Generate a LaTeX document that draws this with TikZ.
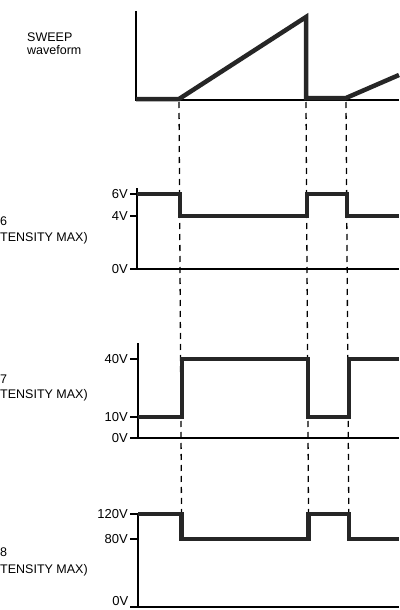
\documentclass[tikz,border=0pt]{standalone}
\usepackage{fontspec}
\setmainfont{Liberation Sans}
\begin{document}
\begin{tikzpicture}[x=1pt, y=-1pt,
    wave/.style ={line width=4.5pt, black!85},
    axis/.style ={line width=1.4pt},
    guide/.style ={dash pattern=on 6pt off 5pt, line width=1.3pt},
    tick/.style ={left, inner sep=1.5pt, font=\fontsize{13}{15}\selectfont},
    caption/.style ={anchor=base west, inner sep=0pt, font=\fontsize{12.5}{15}\selectfont}]
   \useasboundingbox (0,0) rectangle (399,610);

   \node[caption] (S) at (27,42) {SWEEP};
   \node[caption] (W) at (27,55) {waveform};
   \node[caption] (G6) at (0,225) {6};
   \node[caption] (I6) at (0,241) {TENSITY MAX)};
   \node[caption] (G7) at (0,383) {7};
   \node[caption] (I7) at (0,398) {TENSITY MAX)};
   \node[caption] (G8) at (0,556) {8};
   \node[caption] (I8) at (0,573) {TENSITY MAX)};

   \coordinate (t1) at (179,102);
   \coordinate (b1) at (181.5,514);
   \coordinate (t2) at (306,102);
   \coordinate (b2) at (308.5,514);
   \coordinate (t3) at (346,102);
   \coordinate (b3) at (348.8,514);
   \draw[guide] (t1) -- (b1);
   \draw[guide] (t2) -- (b2);
   \draw[guide] (t3) -- (b3);

   \draw[axis] (136,11) -- (136,100) -- (399,100);
   \draw[wave] (136,99) -- (179,99) -- (306,17) -- (306,98) -- (346,98) -- (399,75);

   \draw[axis] (137,188) -- (137,269) -- (399,269);
   \draw[axis] (137,194) -- (130,194) node[tick] (a6) {6V};
   \draw[axis] (137,216) -- (130,216) node[tick] (a4) {4V};
   \draw[axis] (137,269) -- (130,269) node[tick] (a0) {0V};
   \draw[wave] (137,194) -- (180,194) -- (180,216) -- (307,216) -- (307,194) -- (347,194) -- (347,216) -- (399,216);

   \draw[axis] (138,343) -- (138,438) -- (399,438);
   \draw[axis] (138,359) -- (130,359) node[tick] (b40) {40V};
   \draw[axis] (138,417) -- (130,417) node[tick] (b10) {10V};
   \draw[axis] (138,438) -- (130,438) node[tick] (b0) {0V};
   \draw[wave] (138,417) -- (182,417) -- (182,359) -- (308,359) -- (308,417) -- (349,417) -- (349,359) -- (399,359);

   \draw[axis] (138,513) -- (138,607) -- (399,607);
   \draw[axis] (138,514) -- (130,514) node[tick] (c120) {120V};
   \draw[axis] (138,539) -- (130,539) node[tick] (c80) {80V};
   \draw[axis] (138,607) -- (130,607) node[tick, anchor=south east, inner sep=1pt] (c0) {0V};
   \draw[wave] (138,514) -- (181.5,514) -- (181.5,539) -- (308.5,539) -- (308.5,514) -- (349,514) -- (349,539) -- (399,539);
\end{tikzpicture}
\end{document}
